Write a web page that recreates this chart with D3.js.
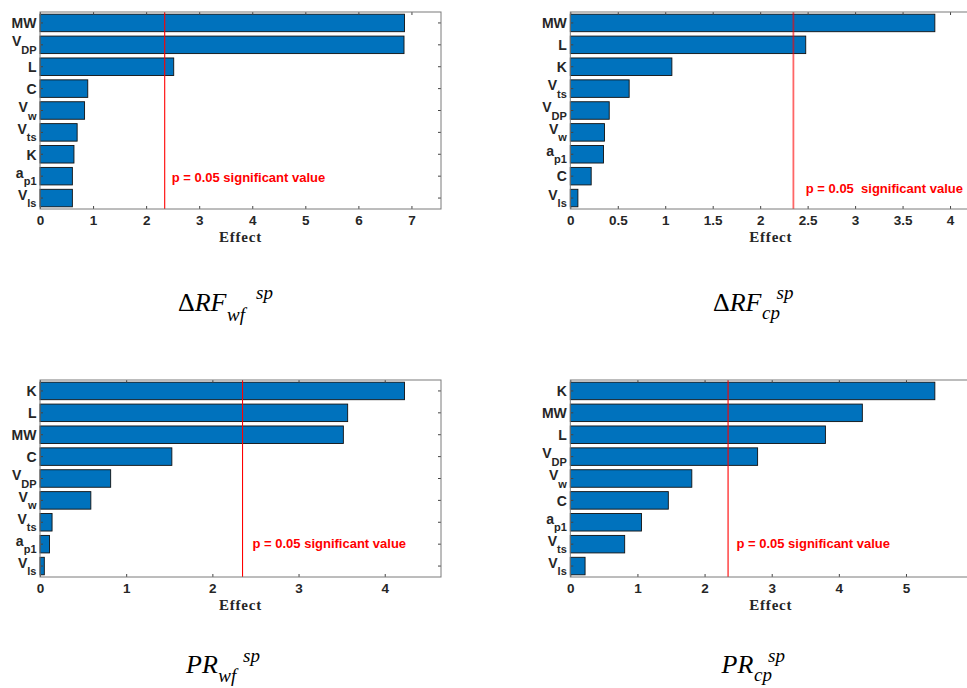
<!DOCTYPE html>
<html>
<head>
<meta charset="utf-8">
<script src="https://cdn.jsdelivr.net/npm/d3@7"></script>
<style>
  html, body { margin: 0; padding: 0; background: #fff; }
  svg { display: block; }
  .tick text { font-family: "Liberation Sans", Arial, sans-serif; font-weight: bold; fill: #262626; }
</style>
</head>
<body>
<script>
// Factor names: the part after "_" is drawn as a subscript.
const rfWfFactors = ["MW", "V_DP", "L", "C", "V_w", "V_ts", "K", "a_p1", "V_ls"];
const rfWfEffects = [6.87, 6.86, 2.52, 0.90, 0.84, 0.70, 0.64, 0.61, 0.61];

const rfCpFactors = ["MW", "L", "K", "V_ts", "V_DP", "V_w", "a_p1", "C", "V_ls"];
const rfCpEffects = [3.84, 2.48, 1.07, 0.62, 0.41, 0.36, 0.35, 0.22, 0.08];

const prWfFactors = ["K", "L", "MW", "C", "V_DP", "V_w", "V_ts", "a_p1", "V_ls"];
const prWfEffects = [4.23, 3.57, 3.52, 1.53, 0.82, 0.59, 0.14, 0.11, 0.05];

const prCpFactors = ["K", "MW", "L", "V_DP", "V_w", "C", "a_p1", "V_ts", "V_ls"];
const prCpEffects = [5.43, 4.35, 3.80, 2.79, 1.81, 1.46, 1.06, 0.81, 0.22];

const rfWfTicks = [0, 1, 2, 3, 4, 5, 6, 7];
const rfCpTicks = [0, 0.5, 1, 1.5, 2, 2.5, 3, 3.5, 4];
const prWfTicks = [0, 1, 2, 3, 4];
const prCpTicks = [0, 1, 2, 3, 4, 5];

// Critical effect at p = 0.05
const significance = 2.35;

const W = 967, H = 688;
const plotW = 401, plotH = 197;

const svg = d3.select("body").append("svg")
  .attr("width", W).attr("height", H);

const panels = [
  { factors: rfWfFactors, effects: rfWfEffects, ticks: rfWfTicks,
    note: "p = 0.05 significant value", left: 40, top: 12,
    noteDx: 7, noteY: 181.7, lineOpacity: 1, lineWidth: 1.1,
    title: { greek: "Δ", main: "RF", sub: "wf", sup: "sp", x: 178, y: 311, subX: 226.5, subY: 321, supX: 256, supY: 299 } },
  { factors: rfCpFactors, effects: rfCpEffects, ticks: rfCpTicks,
    note: "p = 0.05  significant value", left: 570.3, top: 12,
    noteDx: 12.4, noteY: 193.3, lineOpacity: 0.6, lineWidth: 1.8,
    title: { greek: "Δ", main: "RF", sub: "cp", sup: "sp", x: 713, y: 311, subX: 755, subY: 319, supX: 776.5, supY: 299 } },
  { factors: prWfFactors, effects: prWfEffects, ticks: prWfTicks,
    note: "p = 0.05 significant value", left: 40, top: 380,
    noteDx: 10, noteY: 548.3, lineOpacity: 1, lineWidth: 1.1,
    title: { greek: "", main: "PR", sub: "wf", sup: "sp", x: 186, y: 673, subX: 218, subY: 682, supX: 243, supY: 662 } },
  { factors: prCpFactors, effects: prCpEffects, ticks: prCpTicks,
    note: "p = 0.05 significant value", left: 570.3, top: 380,
    noteDx: 8.4, noteY: 548.3, lineOpacity: 1, lineWidth: 1.1,
    title: { greek: "", main: "PR", sub: "cp", sup: "sp", x: 721.5, y: 673, subX: 754, subY: 681, supX: 768, supY: 662 } }
];

function drawPanel(p) {
  const g = svg.append("g");
  const rows = p.factors.map((f, i) => ({ factor: f, effect: p.effects[i] }));

  const x = d3.scaleLinear()
    .domain([0, d3.max(p.effects) * 1.1])
    .range([p.left, p.left + plotW]);

  const y = d3.scaleBand()
    .domain(p.factors)
    .range([p.top, p.top + plotH])
    .paddingInner(0.2)
    .paddingOuter(0.1);

  const bottom = p.top + plotH;

  // Bars
  g.append("g").selectAll("rect")
    .data(rows)
    .join("rect")
    .attr("x", x(0))
    .attr("y", d => y(d.factor))
    .attr("width", d => x(d.effect) - x(0))
    .attr("height", y.bandwidth())
    .attr("fill", "#0072BD")
    .attr("stroke", "#111")
    .attr("stroke-width", 0.9);

  // Significance threshold
  g.append("line")
    .attr("x1", x(significance)).attr("x2", x(significance))
    .attr("y1", p.top).attr("y2", bottom)
    .attr("stroke", "#ff0000")
    .attr("stroke-opacity", p.lineOpacity)
    .attr("stroke-width", p.lineWidth);

  g.append("text")
    .attr("x", x(significance) + p.noteDx)
    .attr("y", p.noteY)
    .attr("fill", "#ff0000")
    .style("font-family", '"Liberation Sans", Arial, sans-serif')
    .style("font-weight", "bold")
    .style("font-size", "13px")
    .style("white-space", "pre")
    .text(p.note);

  // Bottom axis with inward ticks and labels
  const axB = g.append("g")
    .attr("transform", `translate(0,${bottom})`)
    .call(d3.axisBottom(x).tickValues(p.ticks).tickSizeInner(-3).tickSizeOuter(0).tickPadding(6)
      .tickFormat(d3.format("~g")));
  axB.select(".domain").remove();
  axB.selectAll(".tick line").attr("stroke", "#444");
  axB.selectAll(".tick text").style("font-size", "13.5px");

  // Top axis: ticks only
  const axT = g.append("g")
    .attr("transform", `translate(0,${p.top})`)
    .call(d3.axisTop(x).tickValues(p.ticks).tickSizeInner(-3).tickSizeOuter(0).tickFormat(""));
  axT.select(".domain").remove();
  axT.selectAll(".tick line").attr("stroke", "#444");

  // Left axis with factor labels (subscripts as tspans)
  const axL = g.append("g")
    .attr("transform", `translate(${p.left},0)`)
    .call(d3.axisLeft(y).tickSizeInner(-3).tickSizeOuter(0).tickFormat(""));
  axL.select(".domain").remove();
  axL.selectAll(".tick line").attr("stroke", "#444");
  axL.selectAll(".tick text").remove();
  axL.selectAll(".tick").each(function (f) {
    const [main, sub] = f.split("_");
    const t = d3.select(this).append("text")
      .attr("x", -3.5)
      .attr("text-anchor", "end")
      .style("font-size", "14px");
    if (sub) {
      t.attr("y", 1.5);
      t.append("tspan").text(main);
      t.append("tspan").attr("dy", 7.5).style("font-size", "11px").text(sub);
    } else {
      t.attr("y", 5.3).text(main);
    }
  });

  // Right axis: ticks only
  const axR = g.append("g")
    .attr("transform", `translate(${p.left + plotW},0)`)
    .call(d3.axisRight(y).tickSizeInner(-3).tickSizeOuter(0).tickFormat(""));
  axR.select(".domain").remove();
  axR.selectAll(".tick line").attr("stroke", "#444");

  // Axes box
  g.append("rect")
    .attr("x", p.left).attr("y", p.top)
    .attr("width", plotW).attr("height", plotH)
    .attr("fill", "none")
    .attr("stroke", "#7a7a7a")
    .attr("stroke-width", 1);

  // Axis title
  g.append("text")
    .attr("x", p.left + plotW / 2)
    .attr("y", bottom + 33)
    .attr("text-anchor", "middle")
    .attr("fill", "#262626")
    .style("font-family", '"Liberation Serif", "Times New Roman", serif')
    .style("font-weight", "bold")
    .style("font-size", "15px")
    .style("letter-spacing", "0.8px")
    .text("Effect");

  // Panel caption: upright Greek, italic symbol, subscript and superscript
  const tt = p.title;
  const serif = '"Liberation Serif", "Times New Roman", serif';
  const mainText = g.append("text")
    .attr("x", tt.x).attr("y", tt.y)
    .attr("fill", "#000")
    .style("font-family", serif)
    .style("font-size", "26px");
  if (tt.greek) mainText.append("tspan").text(tt.greek);
  mainText.append("tspan").style("font-style", "italic").text(tt.main);
  const mainEnd = tt.x + mainText.node().getComputedTextLength();

  g.append("text")
    .attr("x", Math.max(tt.subX, mainEnd + 0.5)).attr("y", tt.subY)
    .attr("fill", "#000")
    .style("font-family", serif)
    .style("font-style", "italic")
    .style("font-size", "19px")
    .text(tt.sub);

  g.append("text")
    .attr("x", tt.supX).attr("y", tt.supY)
    .attr("fill", "#000")
    .style("font-family", serif)
    .style("font-style", "italic")
    .style("font-size", "19px")
    .text(tt.sup);
}

panels.forEach(drawPanel);
</script>
</body>
</html>
